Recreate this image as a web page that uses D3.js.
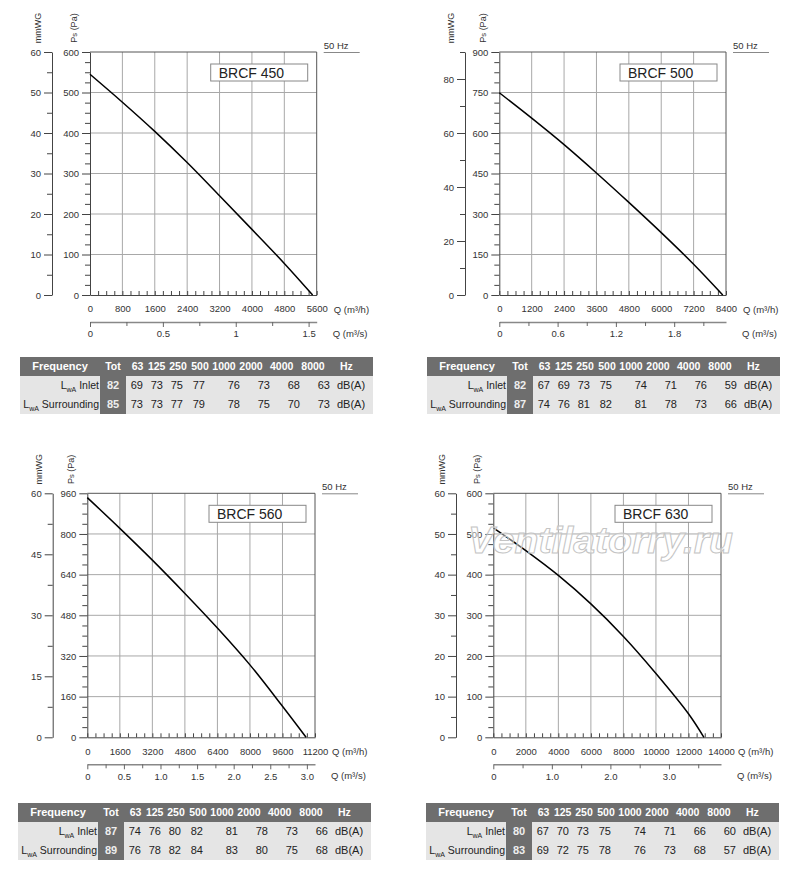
<!DOCTYPE html>
<html>
<head>
<meta charset="utf-8">
<script src="https://cdn.jsdelivr.net/npm/d3@7"></script>
<style>
    body { margin: 0; background: #fff; }
    svg { font-family: "Liberation Sans", Arial, sans-serif; }
</style>
</head>
<body>
<svg id="chart" width="800" height="878"></svg>
<script>
// Fan models
const models = ["BRCF 450", "BRCF 500", "BRCF 560", "BRCF 630"];

// Fan curves: air flow Q (m³/h) and static pressure Ps (Pa)
const flow450 = [0, 800, 1600, 2400, 3200, 4000, 4800, 5500];
const ps450 = [545, 476, 404, 327, 245, 162, 78, 0];
const flow500 = [0, 1200, 2400, 3600, 4800, 6000, 7200, 8280];
const ps500 = [749, 655, 557, 452, 343, 231, 114, 0];
const flow560 = [0, 1600, 3200, 4800, 6400, 8000, 9600, 10760];
const ps560 = [943, 822, 697, 566, 430, 285, 122, 0];
const flow630 = [0, 2000, 4000, 6000, 8000, 10000, 12000, 12950];
const ps630 = [515, 459, 398, 328, 248, 157, 58, 0];

// Axis ranges: [max, major step]
const flowAxes = [[5600, 800], [8400, 1200], [11200, 1600], [14000, 2000]];
const psAxes = [[600, 100], [900, 150], [960, 160], [600, 100]];
const mmwgAxes = [[60, 10], [90, 20], [60, 15], [60, 10]];
const m3sSteps = [0.5, 0.6, 0.5, 1.0];
const m3sFixed = [false, false, true, true];

// Sound power table
const freqBands = ["63", "125", "250", "500", "1000", "2000", "4000", "8000"];
const totInlet = [82, 82, 87, 80];
const totSurround = [85, 87, 89, 83];
const inlet450 = [69, 73, 75, 77, 76, 73, 68, 63];
const surround450 = [73, 73, 77, 79, 78, 75, 70, 73];
const inlet500 = [67, 69, 73, 75, 74, 71, 76, 59];
const surround500 = [74, 76, 81, 82, 81, 78, 73, 66];
const inlet560 = [74, 76, 80, 82, 81, 78, 73, 66];
const surround560 = [76, 78, 82, 84, 83, 80, 75, 68];
const inlet630 = [67, 70, 73, 75, 74, 71, 66, 60];
const surround630 = [69, 72, 75, 78, 76, 73, 68, 57];

const flows = [flow450, flow500, flow560, flow630];
const pressures = [ps450, ps500, ps560, ps630];
const inlets = [inlet450, inlet500, inlet560, inlet630];
const surrounds = [surround450, surround500, surround560, surround630];

// Panel placement on the page
const panels = [
    { left: 90, right: 316.7, top: 52, bottom: 295, mm: 52, tx: 20, ty: 357 },
    { left: 499.3, right: 726, top: 52, bottom: 295, mm: 465, tx: 427, ty: 357 },
    { left: 87.3, right: 315, top: 493.3, bottom: 737.3, mm: 52.7, tx: 18, ty: 803 },
    { left: 493.3, right: 721, top: 493.3, bottom: 737.3, mm: 456, tx: 426, ty: 803 }
];

const font = "'Liberation Sans', Arial, sans-serif";
const intFormat = d3.format("d");
const svg = d3.select("#chart");

// steps from start to max (rounded to avoid float noise)
function steps(start, max, step) {
    const out = [];
    for (let i = 0; start + i * step <= max + 1e-9; i++) out.push(+(start + i * step).toFixed(4));
    return out;
}

function styleAxis(g, color) {
    g.attr("font-size", 9.5).attr("font-family", font);
    g.selectAll("text").attr("fill", "#333");
    g.selectAll("line").attr("stroke", color || "#444");
    g.select(".domain").attr("stroke", color || "#444");
}

panels.forEach((p, i) => {
    const [qMax, qStep] = flowAxes[i];
    const [psMax, psStep] = psAxes[i];
    const [mmMax, mmStep] = mmwgAxes[i];
    const sMax = qMax / 3600;
    const sStep = m3sSteps[i];

    const x = d3.scaleLinear().domain([0, qMax]).range([p.left, p.right]);
    const y = d3.scaleLinear().domain([0, psMax]).range([p.bottom, p.top]);
    const yMm = d3.scaleLinear().domain([0, mmMax]).range([p.bottom, p.top]);
    const xS = d3.scaleLinear().domain([0, sMax]).range([p.left, p.right]);

    const qMajor = steps(0, qMax, qStep);
    const qMinor = steps(0, qMax, qStep / 4).filter(v => v % qStep !== 0);
    const psMajor = steps(0, psMax, psStep);
    const psMinor = steps(0, psMax, psStep / 4).filter(v => Math.abs(v / psStep - Math.round(v / psStep)) > 1e-6);
    const mmMajor = steps(0, mmMax, mmStep);
    const mmMinor = steps(mmStep / 2, mmMax, mmStep);
    const sMajor = steps(0, sMax, sStep);
    const sMinor = steps(sStep / 2, sMax, sStep);

    const g = svg.append("g");

    // Grid
    g.append("g").selectAll("line")
        .data(qMajor.filter(v => v > 0 && v < qMax))
        .enter().append("line")
        .attr("x1", d => x(d)).attr("x2", d => x(d))
        .attr("y1", p.top).attr("y2", p.bottom)
        .attr("stroke", "#a8a8a8");
    g.append("g").selectAll("line")
        .data(psMajor.filter(v => v > 0 && v < psMax))
        .enter().append("line")
        .attr("x1", p.left).attr("x2", p.right)
        .attr("y1", d => y(d)).attr("y2", d => y(d))
        .attr("stroke", "#a8a8a8");

    // Frame top and right
    g.append("path")
        .attr("d", `M${x(0)},${y(psMax)}H${x(qMax)}V${y(0)}`)
        .attr("fill", "none")
        .attr("stroke", "#555");

    // Ps axis
    g.append("g")
        .attr("transform", `translate(${p.left},0)`)
        .call(d3.axisLeft(y).tickValues(psMajor).tickFormat(intFormat).tickSize(8).tickPadding(3).tickSizeOuter(0))
        .call(styleAxis);
    g.append("g")
        .attr("transform", `translate(${p.left},0)`)
        .call(d3.axisLeft(y).tickValues(psMinor).tickSize(5).tickFormat("").tickSizeOuter(0))
        .call(a => a.select(".domain").remove())
        .call(styleAxis);

    // mmWG axis
    g.append("g")
        .attr("transform", `translate(${p.mm},0)`)
        .call(d3.axisLeft(yMm).tickValues(mmMajor).tickFormat(intFormat).tickSize(8).tickPadding(3).tickSizeOuter(0))
        .call(styleAxis);
    g.append("g")
        .attr("transform", `translate(${p.mm},0)`)
        .call(d3.axisLeft(yMm).tickValues(mmMinor).tickSize(5).tickFormat("").tickSizeOuter(0))
        .call(a => a.select(".domain").remove())
        .call(styleAxis);

    // Q (m³/h) axis
    g.append("g")
        .attr("transform", `translate(0,${p.bottom})`)
        .call(d3.axisBottom(x).tickValues(qMajor).tickFormat(intFormat).tickSize(-4).tickPadding(10.5).tickSizeOuter(0))
        .call(styleAxis);
    g.append("g")
        .attr("transform", `translate(0,${p.bottom})`)
        .call(d3.axisBottom(x).tickValues(qMinor).tickSize(-4).tickFormat("").tickSizeOuter(0))
        .call(a => a.select(".domain").remove())
        .call(styleAxis);

    // Q (m³/s) axis
    const sFormat = d => d === 0 ? "0" : (m3sFixed[i] ? d.toFixed(1) : String(d));
    g.append("g")
        .attr("transform", `translate(0,${p.bottom + 27})`)
        .call(d3.axisBottom(xS).tickValues(sMajor).tickSize(5).tickPadding(3.5).tickFormat(sFormat).tickSizeOuter(0))
        .call(a => styleAxis(a, "#666"))
        .call(a => a.select(".domain").attr("stroke", "#888").attr("stroke-width", 1.6));
    g.append("g")
        .attr("transform", `translate(0,${p.bottom + 27})`)
        .call(d3.axisBottom(xS).tickValues(sMinor).tickSize(4).tickFormat("").tickSizeOuter(0))
        .call(a => a.select(".domain").remove())
        .call(a => styleAxis(a, "#666"));

    // Axis titles
    g.append("text")
        .attr("transform", `translate(${p.mm - 14},${p.top - 24}) rotate(-90)`)
        .attr("text-anchor", "middle").attr("dy", "0.35em")
        .attr("font-size", 9).attr("fill", "#333")
        .text("mmWG");
    const psTitle = g.append("text")
        .attr("transform", `translate(${p.left - 16},${p.top - 24}) rotate(-90)`)
        .attr("text-anchor", "middle").attr("dy", "0.35em")
        .attr("font-size", 9).attr("fill", "#333");
    psTitle.append("tspan").text("P");
    psTitle.append("tspan").attr("font-size", 7.5).text("s");
    psTitle.append("tspan").text(" (Pa)");

    g.append("text")
        .attr("x", p.right + 17).attr("y", p.bottom + 17.5)
        .attr("font-size", 9.5).attr("fill", "#333")
        .text("Q (m³/h)");
    g.append("text")
        .attr("x", p.right + 16).attr("y", p.bottom + 42)
        .attr("font-size", 9.5).attr("fill", "#333")
        .text("Q (m³/s)");

    // 50 Hz label
    g.append("text")
        .attr("x", p.right + 7).attr("y", p.top - 3)
        .attr("font-size", 9.5).attr("fill", "#333")
        .text("50 Hz");
    g.append("line")
        .attr("x1", p.right + 7).attr("x2", p.right + 43)
        .attr("y1", p.top + 0.5).attr("y2", p.top + 0.5)
        .attr("stroke", "#888");

    // Model box
    g.append("rect")
        .attr("x", p.right - 106).attr("y", p.top + 12)
        .attr("width", 97).attr("height", 17)
        .attr("fill", "#fff").attr("stroke", "#888");
    g.append("text")
        .attr("x", p.right - 98).attr("y", p.top + 25.5)
        .attr("font-size", 14).attr("fill", "#222")
        .text(models[i]);

    // Fan curve
    const line = d3.line()
        .x(d => x(d[0]))
        .y(d => y(d[1]))
        .curve(d3.curveCatmullRom.alpha(0.5));
    g.append("path")
        .datum(d3.zip(flows[i], pressures[i]))
        .attr("d", line)
        .attr("fill", "none")
        .attr("stroke", "#000")
        .attr("stroke-width", 1.5);

    // Sound table
    const t = svg.append("g").attr("transform", `translate(${p.tx},${p.ty})`);
    t.append("rect").attr("width", 353).attr("height", 19).attr("fill", "#6e6e6e");
    t.append("rect").attr("y", 19).attr("width", 353).attr("height", 38).attr("fill", "#e5e5e5");
    t.append("rect").attr("x", 80).attr("y", 19).attr("width", 26).attr("height", 38).attr("fill", "#6e6e6e");

    const headCenters = [117.5, 136.7, 158, 180, 204, 231, 261.7, 293];
    const valueEnds = [123, 143, 163, 185, 220, 250, 280, 310];

    t.append("text").attr("x", 40).attr("y", 13.4).attr("text-anchor", "middle")
        .attr("font-size", 11).attr("font-weight", "bold").attr("fill", "#fff")
        .text("Frequency");
    t.append("text").attr("x", 93).attr("y", 13.4).attr("text-anchor", "middle")
        .attr("font-size", 10.5).attr("font-weight", "bold").attr("fill", "#fff")
        .text("Tot");
    t.selectAll(".band").data(freqBands).enter().append("text")
        .attr("x", (d, k) => headCenters[k]).attr("y", 13.4).attr("text-anchor", "middle")
        .attr("font-size", 10.5).attr("font-weight", "bold").attr("fill", "#fff")
        .text(d => d);
    t.append("text").attr("x", 320).attr("y", 13.4)
        .attr("font-size", 10.5).attr("font-weight", "bold").attr("fill", "#fff")
        .text("Hz");

    const rows = [
        { label: " Inlet", tot: totInlet[i], vals: inlets[i], yb: 32.3 },
        { label: " Surrounding", tot: totSurround[i], vals: surrounds[i], yb: 51.3 }
    ];
    rows.forEach(r => {
        const lbl = t.append("text").attr("x", 79).attr("y", r.yb).attr("text-anchor", "end")
            .attr("font-size", 10.5).attr("fill", "#222");
        lbl.append("tspan").text("L");
        lbl.append("tspan").attr("font-size", 7).attr("dy", 2.5).text("wA");
        lbl.append("tspan").attr("dy", -2.5).text(r.label);
        t.append("text").attr("x", 93).attr("y", r.yb).attr("text-anchor", "middle")
            .attr("font-size", 11).attr("font-weight", "bold").attr("fill", "#eee")
            .text(r.tot);
        r.vals.forEach((v, k) => {
            t.append("text").attr("x", valueEnds[k]).attr("y", r.yb).attr("text-anchor", "end")
                .attr("font-size", 11).attr("fill", "#222")
                .text(v);
        });
        t.append("text").attr("x", 317).attr("y", r.yb)
            .attr("font-size", 11).attr("fill", "#222")
            .text("dB(A)");
    });
});

// Watermark over the last chart
svg.append("text")
    .attr("x", 468).attr("y", 553)
    .attr("font-size", 37).attr("font-weight", "bold").attr("font-style", "italic")
    .attr("textLength", 265).attr("lengthAdjust", "spacingAndGlyphs")
    .attr("fill", "#fff").attr("fill-opacity", 0.45)
    .attr("stroke", "#c4c4c4").attr("stroke-width", 1)
    .text("Ventilatorry.ru");
</script>
</body>
</html>
